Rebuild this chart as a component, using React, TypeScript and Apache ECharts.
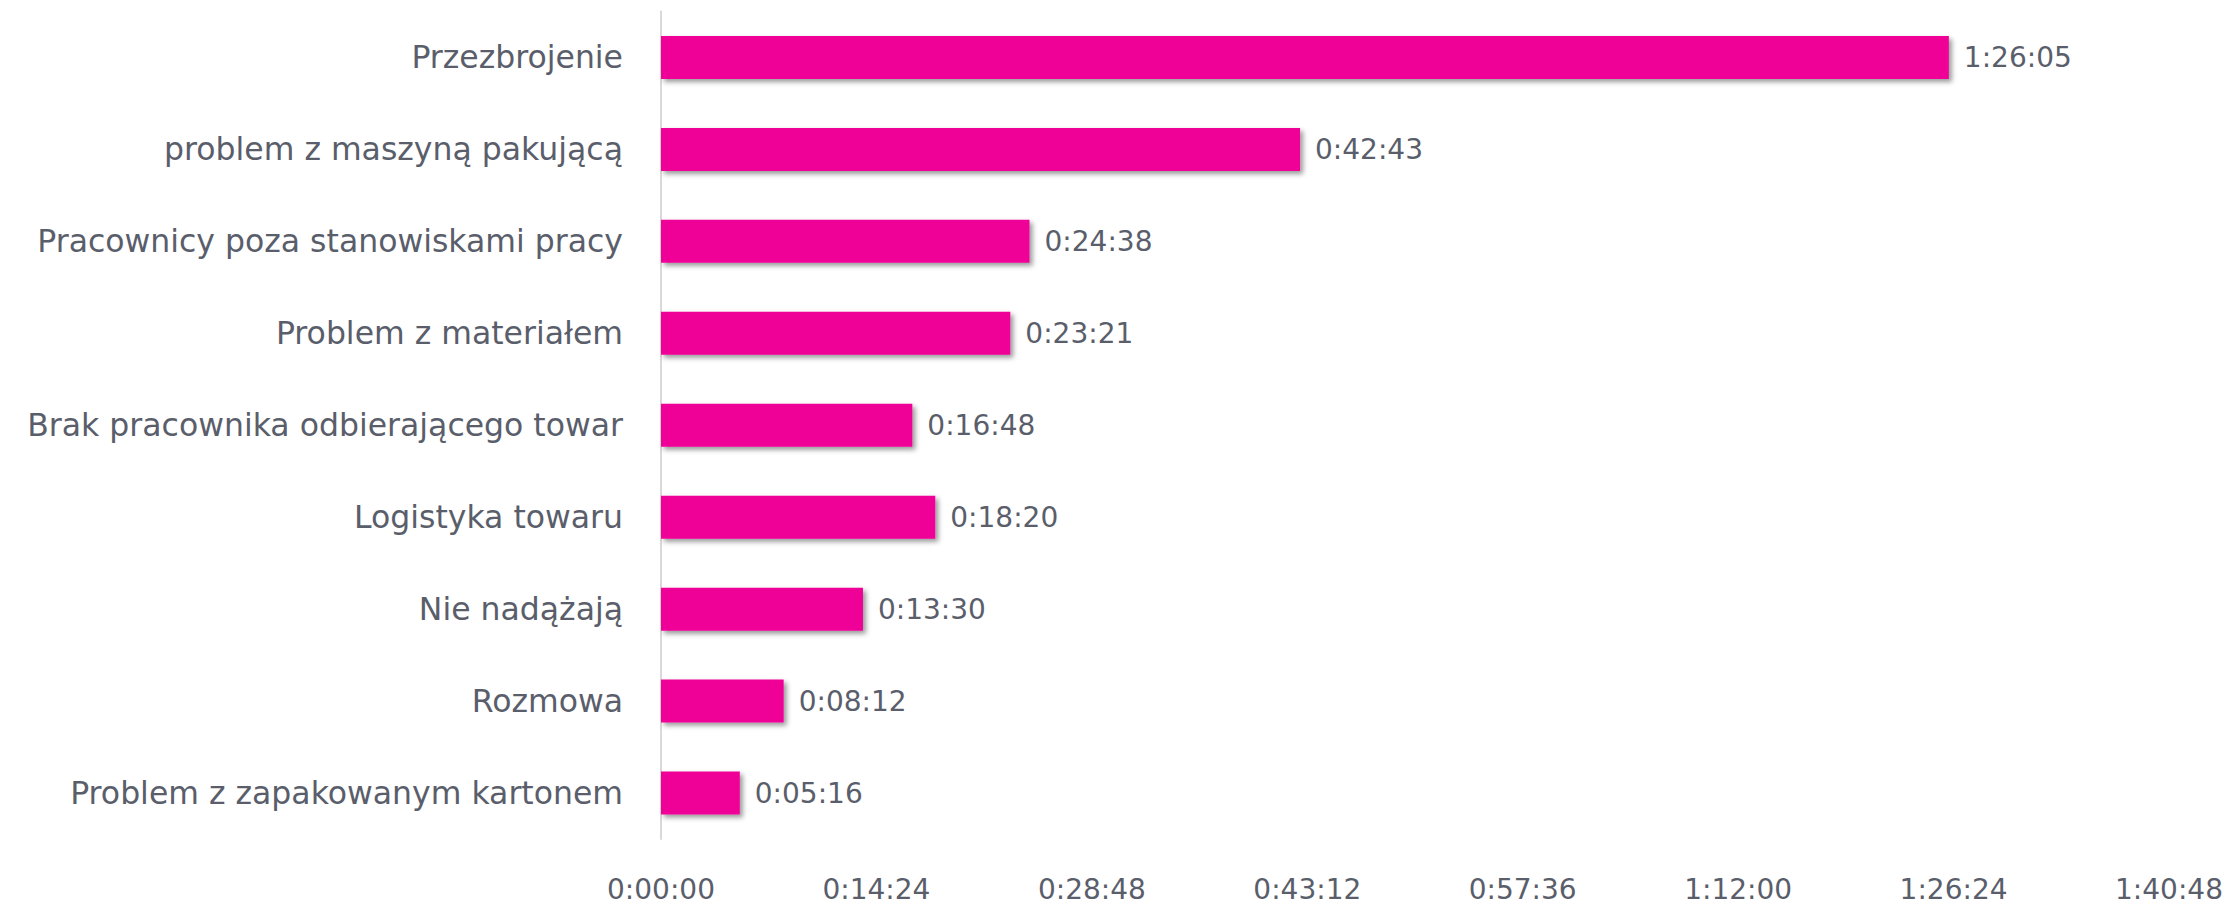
import React, { useEffect, useRef } from "react";
import * as echarts from "echarts";

const categories = [
  "Przezbrojenie",
  "problem z maszyną pakującą",
  "Pracownicy poza stanowiskami pracy",
  "Problem z materiałem",
  "Brak pracownika odbierającego towar",
  "Logistyka towaru",
  "Nie nadążają",
  "Rozmowa",
  "Problem z zapakowanym kartonem",
];

// durations in seconds
const durations = [5165, 2563, 1478, 1401, 1008, 1100, 810, 492, 316];

const axisMin = 0;
const axisMax = 6048;
const axisInterval = 864;

function fmt(sec: number): string {
  const s = Math.round(sec);
  const h = Math.floor(s / 3600);
  const m = Math.floor((s % 3600) / 60);
  const ss = s % 60;
  return `${h}:${String(m).padStart(2, "0")}:${String(ss).padStart(2, "0")}`;
}

export default function App() {
  const ref = useRef<HTMLDivElement>(null);
  useEffect(() => {
    if (!ref.current) return;
    const chart = echarts.init(ref.current, undefined, { renderer: "svg" });
    const font = "'DejaVu Sans', sans-serif";
    const textColor = "#5a5e6b";
    chart.setOption({
      animation: false,
      backgroundColor: "#ffffff",
      grid: { left: 661, right: 59, top: 11.5, bottom: 66, containLabel: false },
      xAxis: {
        type: "value",
        min: axisMin,
        max: axisMax,
        interval: axisInterval,
        axisLine: { show: false },
        axisTick: { show: false },
        splitLine: { show: false },
        axisLabel: {
          formatter: (v: number) => fmt(v),
          color: textColor,
          fontFamily: font,
          fontSize: 28,
          lineHeight: 30,
          margin: 35,
        },
      },
      yAxis: {
        type: "category",
        data: categories,
        inverse: true,
        axisLine: { show: true, lineStyle: { color: "#d9d9d9", width: 2 } },
        axisTick: { show: false },
        axisLabel: {
          color: textColor,
          fontFamily: font,
          fontSize: 31.5,
          margin: 38,
        },
      },
      series: [
        {
          type: "bar",
          data: durations,
          barWidth: 43,
          itemStyle: {
            color: "#ef0097",
            shadowColor: "rgba(0,0,0,0.4)",
            shadowBlur: 5,
            shadowOffsetX: 3,
            shadowOffsetY: 3,
          },
          label: {
            show: true,
            position: "right",
            distance: 15,
            formatter: (p: any) => fmt(p.value),
            color: textColor,
            fontFamily: font,
            fontSize: 28,
          },
        },
      ],
    });
    return () => chart.dispose();
  }, []);
  return (
    <div
      ref={ref}
      style={{ position: "fixed", left: 0, top: 0, width: 2228, height: 905 }}
    />
  );
}
